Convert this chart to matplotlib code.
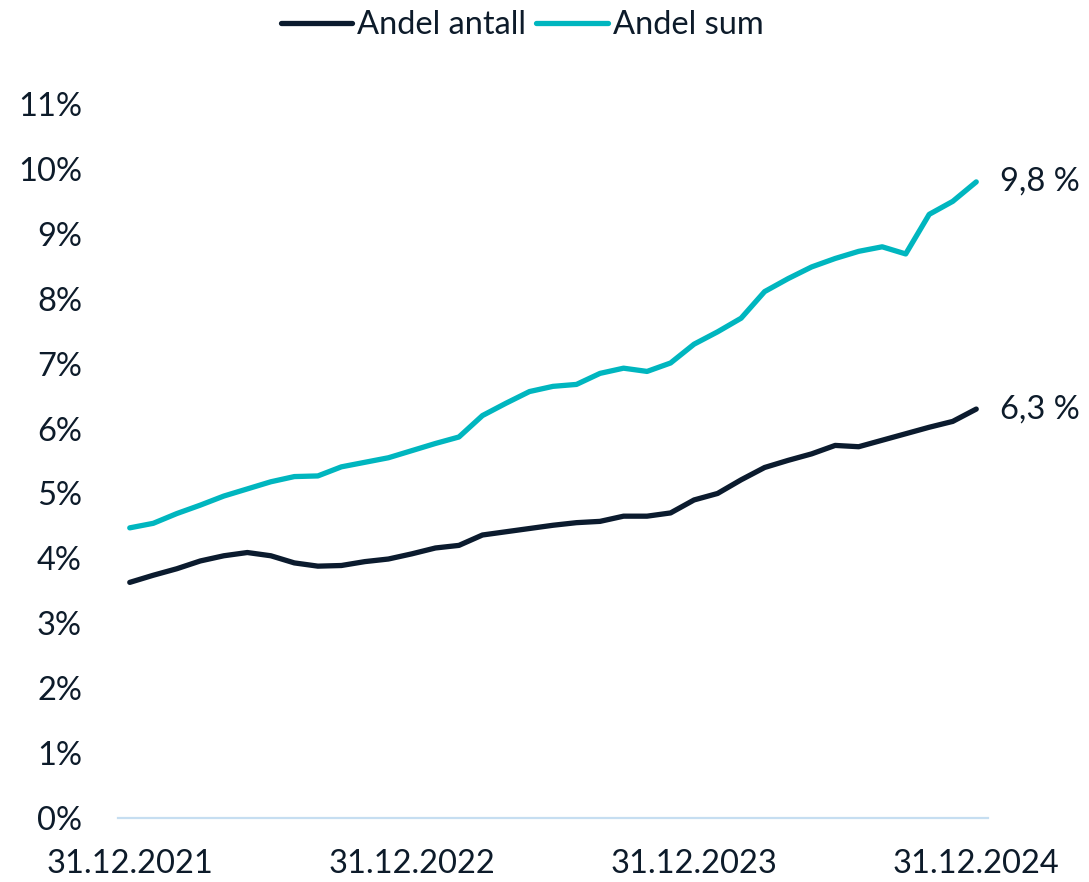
import matplotlib
matplotlib.use("Agg")
import matplotlib.pyplot as plt
from matplotlib.lines import Line2D

# Monthly data 31.12.2021 - 31.12.2024
andel_antall = [3.63, 3.74, 3.84, 3.96, 4.04, 4.09, 4.04, 3.93, 3.88, 3.89,
                3.95, 3.99, 4.07, 4.16, 4.20, 4.36, 4.41, 4.46, 4.51, 4.55,
                4.57, 4.65, 4.65, 4.70, 4.90, 5.00, 5.21, 5.40, 5.51, 5.61,
                5.74, 5.72, 5.82, 5.92, 6.02, 6.11, 6.30]
andel_sum = [4.47, 4.54, 4.69, 4.82, 4.96, 5.07, 5.18, 5.26, 5.27, 5.41,
             5.48, 5.55, 5.66, 5.77, 5.87, 6.20, 6.39, 6.57, 6.65, 6.68,
             6.85, 6.93, 6.88, 7.01, 7.30, 7.49, 7.70, 8.11, 8.31, 8.49,
             8.62, 8.73, 8.80, 8.69, 9.30, 9.50, 9.80]
tick_labels = ["31.12.2021", "31.12.2022", "31.12.2023", "31.12.2024"]
tick_positions = [0, 12, 24, 36]
series_names = ["Andel antall", "Andel sum"]
end_labels = ["6,3 %", "9,8 %"]

plt.rcParams['font.family'] = ['Lato', 'DejaVu Sans']
text_color = "#0d1b2a"
c_dark = "#0b1b2e"
c_teal = "#00b6bf"
fs = 23.5

fig = plt.figure(figsize=(10.89, 8.82), dpi=100)
ax = fig.add_axes([118/1089, (882-818)/882, 870/1089, (818-104)/882])

x = list(range(len(andel_antall)))
ax.plot(x, andel_antall, color=c_dark, lw=3.8, solid_capstyle='round', solid_joinstyle='round', clip_on=False)
ax.plot(x, andel_sum, color=c_teal, lw=3.8, solid_capstyle='round', solid_joinstyle='round', clip_on=False)

ax.set_xlim(-0.5, 36.5)
ax.set_ylim(0, 11)
ax.set_yticks(range(0, 12))
ax.set_yticklabels([f"{i}%" for i in range(0, 12)])
ax.set_xticks(tick_positions)
ax.set_xticklabels(tick_labels)
ax.tick_params(axis='both', length=0, labelsize=fs, colors=text_color)
ax.tick_params(axis='y', pad=26)
ax.tick_params(axis='x', pad=22)
for s in ['top', 'right', 'left']:
    ax.spines[s].set_visible(False)
ax.spines['bottom'].set_color("#c6def1")
ax.spines['bottom'].set_linewidth(1.6)

ax.annotate(end_labels[0], xy=(36, andel_antall[-1]), xytext=(17, 0), textcoords='offset points',
            va='center', ha='left', fontsize=fs, color=text_color)
ax.annotate(end_labels[1], xy=(36, andel_sum[-1]), xytext=(17, 0), textcoords='offset points',
            va='center', ha='left', fontsize=fs, color=text_color)

handles = [Line2D([0], [0], color=c_dark, lw=3.8, solid_capstyle='round'),
           Line2D([0], [0], color=c_teal, lw=3.8, solid_capstyle='round')]
leg = fig.legend(handles, series_names, loc='center', bbox_to_anchor=(522/1089, 1 - 25/882),
                 ncol=2, frameon=False, fontsize=fs, handlelength=2.2, handletextpad=0.15,
                 columnspacing=0.3, labelcolor=text_color)

fig.savefig("out.png", dpi=100)
